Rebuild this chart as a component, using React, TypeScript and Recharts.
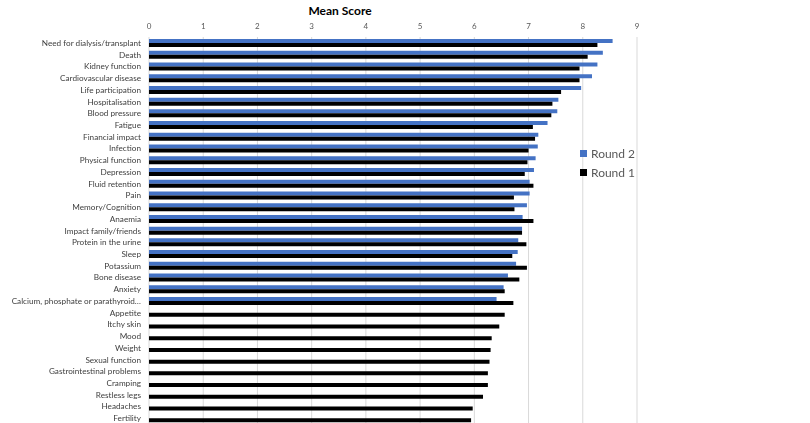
import { Bar, BarChart, CartesianGrid, XAxis, YAxis } from 'recharts';

const categories = [
  'Need for dialysis/transplant',
  'Death',
  'Kidney function',
  'Cardiovascular disease',
  'Life participation',
  'Hospitalisation',
  'Blood pressure',
  'Fatigue',
  'Financial impact',
  'Infection',
  'Physical function',
  'Depression',
  'Fluid retention',
  'Pain',
  'Memory/Cognition',
  'Anaemia',
  'Impact family/friends',
  'Protein in the urine',
  'Sleep',
  'Potassium',
  'Bone disease',
  'Anxiety',
  'Calcium, phosphate or parathyroid…',
  'Appetite',
  'Itchy skin',
  'Mood',
  'Weight',
  'Sexual function',
  'Gastrointestinal problems',
  'Cramping',
  'Restless legs',
  'Headaches',
  'Fertility',
];

const round2: (number | null)[] = [
  8.55, 8.37, 8.27, 8.17, 7.97, 7.55, 7.53, 7.35, 7.18, 7.17, 7.13, 7.1, 7.02, 7.02, 6.97, 6.89,
  6.88, 6.81, 6.8, 6.77, 6.62, 6.54, 6.41, null, null, null, null, null, null, null, null, null, null,
];

const round1 = [
  8.27, 8.09, 7.94, 7.94, 7.6, 7.44, 7.42, 7.08, 7.12, 7.0, 6.98, 6.93, 7.09, 6.73, 6.74, 7.09,
  6.88, 6.96, 6.7, 6.97, 6.83, 6.56, 6.72, 6.56, 6.46, 6.32, 6.3, 6.28, 6.25, 6.25, 6.16, 5.97, 5.94,
];

const xTicks = [0, 1, 2, 3, 4, 5, 6, 7, 8, 9];

const BLUE = '#4472C4';
const BLACK = '#000000';
const FONT = 'Lato, "Open Sans", sans-serif';

const data = categories.map((name, i) => ({ name, r2: round2[i], r1: round1[i] }));

// plain text tick so long labels stay on one line
function CategoryTick(props: any) {
  const { x, y, payload } = props;
  return (
    <text x={x} y={y} dy={3} textAnchor="end" fill="#404040" fontSize={8.2} fontFamily={FONT}>
      {payload.value}
    </text>
  );
}

function LegendBox() {
  const items = [
    { label: 'Round 2', color: BLUE },
    { label: 'Round 1', color: BLACK },
  ];
  return (
    <div
      style={{
        position: 'absolute',
        left: 580,
        top: 144,
        fontFamily: FONT,
        fontSize: 12,
        color: '#595959',
      }}
    >
      {items.map((it) => (
        <div key={it.label} style={{ display: 'flex', alignItems: 'center', height: 19 }}>
          <span style={{ width: 7, height: 7, background: it.color, marginRight: 4 }} />
          {it.label}
        </div>
      ))}
    </div>
  );
}

export default function App() {
  return (
    <div style={{ position: 'fixed', left: 0, top: 0, width: 810, height: 423, background: '#fff' }}>
      <div
        style={{
          position: 'absolute',
          left: 0,
          width: 680,
          top: 3,
          textAlign: 'center',
          fontFamily: FONT,
          fontWeight: 700,
          fontSize: 12,
          color: '#000',
        }}
      >
        Mean Score
      </div>
      <BarChart
        width={810}
        height={424}
        data={data}
        layout="vertical"
        margin={{ top: 17, right: 173, left: 4, bottom: 0 }}
        barGap={0}
        barCategoryGap={1}
      >
        <CartesianGrid horizontal={false} vertical stroke="#d9d9d9" />
        <XAxis
          type="number"
          orientation="top"
          domain={[0, 9]}
          ticks={xTicks}
          height={20}
          axisLine={false}
          tickLine={false}
          tick={{ fill: '#595959', fontSize: 8, fontFamily: FONT }}
        />
        <YAxis
          type="category"
          dataKey="name"
          width={145}
          interval={0}
          axisLine={false}
          tickLine={false}
          tick={<CategoryTick />}
        />
        <Bar dataKey="r2" name="Round 2" fill={BLUE} barSize={4} isAnimationActive={false} />
        <Bar dataKey="r1" name="Round 1" fill={BLACK} barSize={4} isAnimationActive={false} />
      </BarChart>
      <LegendBox />
    </div>
  );
}
